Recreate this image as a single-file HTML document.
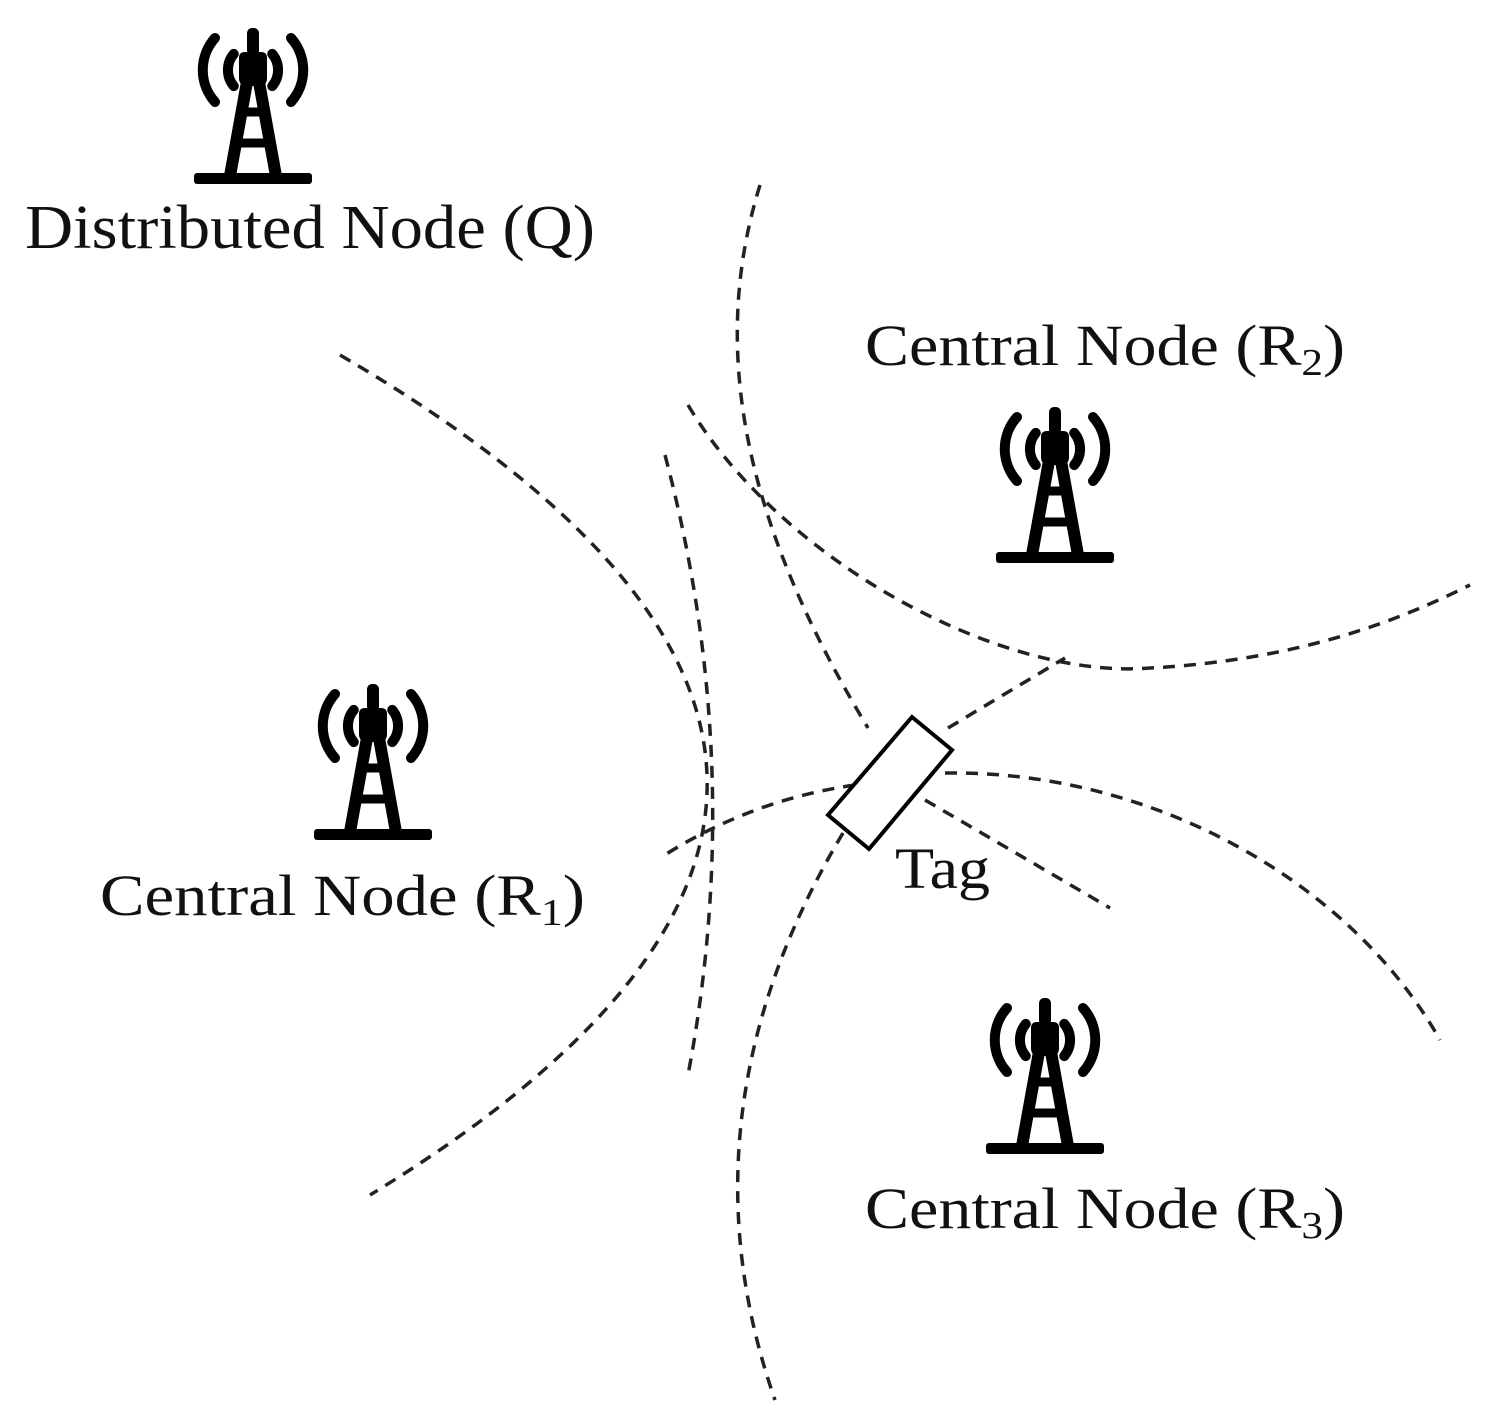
<!DOCTYPE html>
<html><head><meta charset="utf-8"><style>
html,body{margin:0;padding:0;background:#fff;}
svg{display:block;}
text{font-family:"Liberation Serif",serif;fill:#111;}
</style></head><body>
<svg width="1500" height="1416" viewBox="0 0 1500 1416" xmlns="http://www.w3.org/2000/svg">
<defs>
<g id="tw">
  <rect x="54" y="0" width="12" height="28" rx="5" fill="#000"/>
  <path d="M46,30 Q46,24 52,24 L68,24 Q74,24 74,30 L74,50 Q74,58 66,58 L54,58 Q46,58 46,50 Z" fill="#000"/>
  <line x1="54" y1="54" x2="37" y2="148" stroke="#000" stroke-width="12"/>
  <line x1="66" y1="54" x2="83" y2="148" stroke="#000" stroke-width="12"/>
  <line x1="46" y1="84" x2="74" y2="84" stroke="#000" stroke-width="9"/>
  <line x1="42" y1="115" x2="78" y2="115" stroke="#000" stroke-width="9"/>
  <rect x="1" y="145" width="118" height="11" rx="3" fill="#000"/>
  <g fill="none" stroke="#000" stroke-width="10" stroke-linecap="round">
    <path d="M40.8,25.9 A25,25 0 0 0 40.8,58.1"/>
    <path d="M79.2,25.9 A25,25 0 0 1 79.2,58.1"/>
    <path d="M22,10 A48,48 0 0 0 22,74"/>
    <path d="M98,10 A48,48 0 0 1 98,74"/>
  </g>
</g>
</defs>
<use href="#tw" x="193" y="28"/>
<use href="#tw" x="995" y="407"/>
<use href="#tw" x="313" y="684"/>
<use href="#tw" x="985" y="998"/>

<g fill="none" stroke="#222" stroke-width="3.5" stroke-dasharray="12,9">
  <path d="M340,355 Q1059,775 370,1195"/>
  <path d="M665,455 Q747,765 688,1075"/>
  <path d="M760,185 C715,330 730,500 868,728"/>
  <path d="M688,405 C780,560 1000,680 1150,668 C1300,660 1400,620 1470,585"/>
  <path d="M948,728 L1065,658"/>
  <path d="M855,785 Q750,800 660,858"/>
  <path d="M945,773 C1150,770 1350,880 1440,1040"/>
  <path d="M925,800 L1110,908"/>
  <path d="M843,833 Q675,1114 775,1400"/>
</g>
<polygon points="912,717 952,750 869,849 828,815" fill="#fff" stroke="#000" stroke-width="4" stroke-linejoin="miter"/>

<text x="25" y="248" font-size="62" textLength="570" lengthAdjust="spacingAndGlyphs">Distributed Node (Q)</text>
<text x="865" y="365" font-size="58" textLength="480" lengthAdjust="spacingAndGlyphs">Central Node (R<tspan font-size="38" dy="10">2</tspan><tspan dy="-10">)</tspan></text>
<text x="100" y="915" font-size="58" textLength="485" lengthAdjust="spacingAndGlyphs">Central Node (R<tspan font-size="38" dy="10">1</tspan><tspan dy="-10">)</tspan></text>
<text x="865" y="1228" font-size="58" textLength="480" lengthAdjust="spacingAndGlyphs">Central Node (R<tspan font-size="38" dy="10">3</tspan><tspan dy="-10">)</tspan></text>
<text x="895" y="888" font-size="58" textLength="95" lengthAdjust="spacingAndGlyphs">Tag</text>
</svg>
</body></html>
